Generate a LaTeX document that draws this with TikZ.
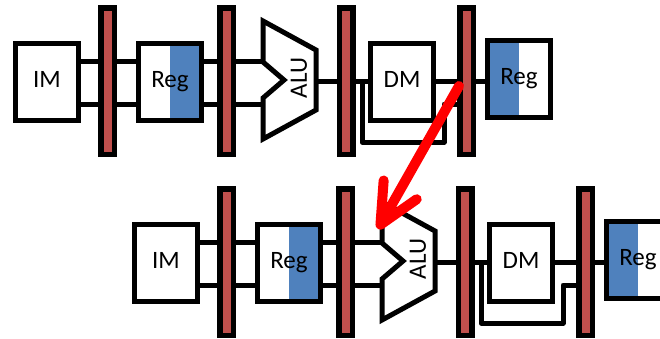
\documentclass[tikz,border=0pt]{standalone}
\usepackage{fontspec}
\setmainfont{Carlito}
\usetikzlibrary{arrows.meta}
\definecolor{regred}{HTML}{C0504D}
\definecolor{regblue}{HTML}{4F81BD}

\begin{document}
\begin{tikzpicture}[x=1pt, y=-1pt]
	\tikzstyle{every node} = [font=\fontsize{25}{30}\selectfont]
	\tikzstyle{unit} = [draw, line width=5pt, minimum width=63pt, minimum height=77pt, inner sep=0pt, text depth=5pt]
	\tikzstyle{regread} = [unit, path picture={\fill[regblue] (path picture bounding box.south) rectangle (path picture bounding box.north east);}]
	\tikzstyle{regwrite} = [unit, path picture={\fill[regblue] (path picture bounding box.south west) rectangle (path picture bounding box.north);}]
	\tikzstyle{latch} = [draw, fill=regred, line width=5.5pt, minimum width=13.5pt, minimum height=146.5pt, inner sep=0pt]
	\tikzstyle{wire} = [line width=5pt]
	\tikzstyle{bypass} = [wire, line join=round]
	\tikzstyle{stall} = [red, line width=10pt, line cap=round, -{Straight Barb[length=40pt, width=38pt, round]}]
	\clip (0,0) rectangle (660,338);
	% first instruction
	\coordinate (lane1) at (0,61);
	\coordinate (lane2) at (0,104);
	\coordinate (lane0) at (0,81);
	\node [unit] (im) at (47,82) {IM};
	\node [latch] (ifid) at (107.5,81) {};
	\node [regread] (rf) at (170,82) {Reg};
	\node [latch] (idex) at (226.5,81) {};
	\draw [wire] (263,21) -- (316,50) -- (316,110) -- (263,139) -- (263,98) -- (284,80) -- (263,62) -- cycle;
	\node [rotate=90] (alu) at (299,78) {ALU};
	\coordinate (alua) at (263,61);
	\coordinate (alub) at (263,104);
	\coordinate (aluo) at (316,81);
	\node [latch] (exmem) at (346,81) {};
	\node [unit] (dm) at (402,82) {DM};
	\node [latch] (memwb) at (466.5,81) {};
	\node [regwrite] (wb) at (519,78.5) {Reg};
	\coordinate (tap) at (362,81);
	\coordinate (loop) at (444,142);
	\draw [wire] (im.east |- lane1) -- (ifid.west |- lane1);
	\draw [wire] (im.east |- lane2) -- (ifid.west |- lane2);
	\draw [wire] (ifid.east |- lane1) -- (rf.west |- lane1);
	\draw [wire] (ifid.east |- lane2) -- (rf.west |- lane2);
	\draw [wire] (rf.east |- lane1) -- (idex.west |- lane1);
	\draw [wire] (rf.east |- lane2) -- (idex.west |- lane2);
	\draw [wire] (idex.east |- lane1) -- (alua);
	\draw [wire] (idex.east |- lane2) -- (alub);
	\draw [wire] (aluo) -- (exmem.west |- lane0);
	\draw [wire] (exmem.east |- lane0) -- (dm.west |- lane0);
	\draw [bypass] (tap) |- (loop) |- (memwb.west |- lane2);
	\draw [wire] (dm.east |- lane0) -- (memwb.west |- lane0);
	\draw [wire] (memwb.east |- lane0) -- (wb.west |- lane0);
	% second instruction, one stage later
	\begin{scope}[shift={(119,181)}]
	\coordinate (blane1) at (0,61);
	\coordinate (blane2) at (0,104);
	\coordinate (blane0) at (0,81);
	\node [unit] (bim) at (47,82) {IM};
	\node [latch] (bifid) at (107.5,81) {};
	\node [regread] (brf) at (170,82) {Reg};
	\node [latch] (bidex) at (226.5,81) {};
	\draw [wire] (263,21) -- (316,50) -- (316,110) -- (263,139) -- (263,98) -- (284,80) -- (263,62) -- cycle;
	\node [rotate=90] (balu) at (299,78) {ALU};
	\coordinate (balua) at (263,61);
	\coordinate (balub) at (263,104);
	\coordinate (baluo) at (316,81);
	\node [latch] (bexmem) at (346,81) {};
	\node [unit] (bdm) at (402,82) {DM};
	\node [latch] (bmemwb) at (466.5,81) {};
	\node [regwrite] (bwb) at (519,78.5) {Reg};
	\coordinate (btap) at (362,81);
	\coordinate (bloop) at (444,142);
	\end{scope}
	\draw [wire] (bim.east |- blane1) -- (bifid.west |- blane1);
	\draw [wire] (bim.east |- blane2) -- (bifid.west |- blane2);
	\draw [wire] (bifid.east |- blane1) -- (brf.west |- blane1);
	\draw [wire] (bifid.east |- blane2) -- (brf.west |- blane2);
	\draw [wire] (brf.east |- blane1) -- (bidex.west |- blane1);
	\draw [wire] (brf.east |- blane2) -- (bidex.west |- blane2);
	\draw [wire] (bidex.east |- blane1) -- (balua);
	\draw [wire] (bidex.east |- blane2) -- (balub);
	\draw [wire] (baluo) -- (bexmem.west |- blane0);
	\draw [wire] (bexmem.east |- blane0) -- (bdm.west |- blane0);
	\draw [bypass] (btap) |- (bloop) |- (bmemwb.west |- blane2);
	\draw [wire] (bdm.east |- blane0) -- (bmemwb.west |- blane0);
	\draw [wire] (bmemwb.east |- blane0) -- (bwb.west |- blane0);
	% stall
	\coordinate (stallfrom) at (459,86);
	\coordinate (stallto) at (378,229);
	\draw [stall] (stallfrom) -- (stallto);
\end{tikzpicture}
\end{document}
